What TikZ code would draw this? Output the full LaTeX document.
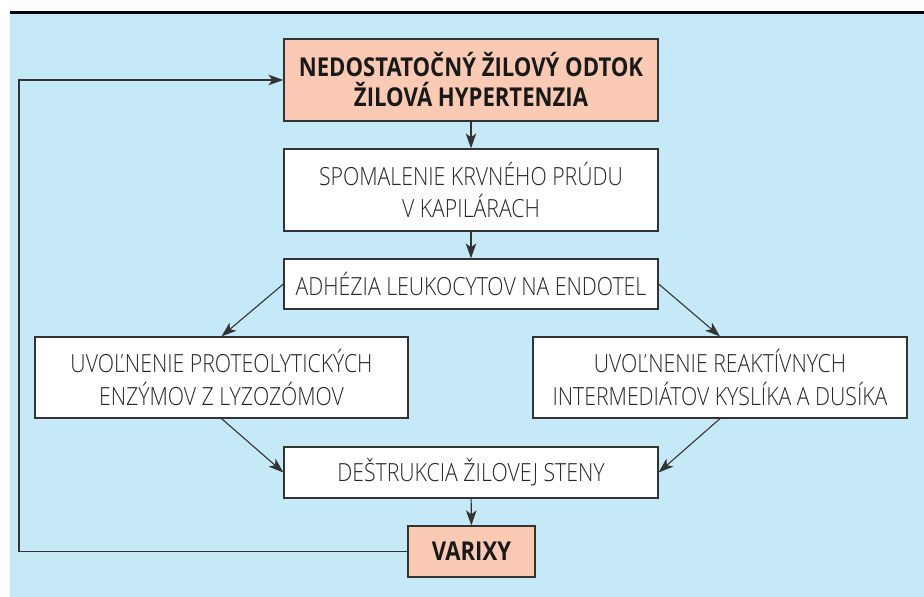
\documentclass[tikz,border=0pt]{standalone}
\usepackage{fontspec}
\setmainfont{Open Sans}[UprightFont=* Light, BoldFont=* Bold, FakeStretch=0.85]
\usetikzlibrary{arrows.meta}
\definecolor{bgblue}{HTML}{C6E9F8}
\definecolor{salmon}{HTML}{FBCAB4}
\definecolor{edgegray}{HTML}{333333}

\tikzset{
  box/.style={draw=edgegray, line width=1.2pt, fill=white, align=center,
    minimum width=374pt, minimum height=82pt, inner sep=0pt,
    font=\fontsize{25}{32.5}\selectfont, text=black!85},
  hotbox/.style={box, fill=salmon, font=\fontsize{26}{30}\selectfont\bfseries, text=black!90},
  link/.style={draw=edgegray, line width=1.1pt,
    -{Stealth[length=15pt,width=10.5pt,inset=4pt]}}
}

\begin{document}
\begin{tikzpicture}[x=1pt,y=1pt]
  \useasboundingbox (0,0) rectangle (924,597);
  \fill[bgblue] (10,0) rectangle (924,583);
  \draw[line width=2.7pt] (10,584.5) to (924,584.5);

  \node[hotbox] (hyp) at (471,517) {NEDOSTATOČNÝ ŽILOVÝ ODTOK\\ŽILOVÁ HYPERTENZIA};
  \node[box] (prud) at (471,407) {SPOMALENIE KRVNÉHO PRÚDU\\V KAPILÁRACH};
  \node[box, minimum height=50pt] (adhez) at (471,313) {ADHÉZIA LEUKOCYTOV NA ENDOTEL};
  \node[box, minimum width=373pt, minimum height=81pt] (enzym) at (221.5,219.5) {UVOĽNENIE PROTEOLYTICKÝCH\\ENZÝMOV Z LYZOZÓMOV};
  \node[box, minimum height=81pt] (radik) at (720,219.5) {UVOĽNENIE REAKTÍVNYCH\\INTERMEDIÁTOV KYSLÍKA A DUSÍKA};
  \node[box, minimum height=51pt] (stena) at (471,124.5) {DEŠTRUKCIA ŽILOVEJ STENY};
  \node[hotbox, minimum width=127pt, minimum height=51pt] (varixy) at (471.5,45.5) {VARIXY};
  \coordinate (spat) at (19,0);

  \draw[link] (hyp) to (prud);
  \draw[link] (prud) to (adhez);
  \draw[link] (adhez.west) to (enzym.north);
  \draw[link] (adhez.east) to (radik.north);
  \draw[link] (enzym.south) to (stena.west);
  \draw[link] (radik.south) to (stena.east);
  \draw[link] (stena) to (varixy);
  \draw[link] (varixy.west) to (varixy.west -| spat) to (spat |- hyp.west) to (hyp.west);
\end{tikzpicture}
\end{document}
